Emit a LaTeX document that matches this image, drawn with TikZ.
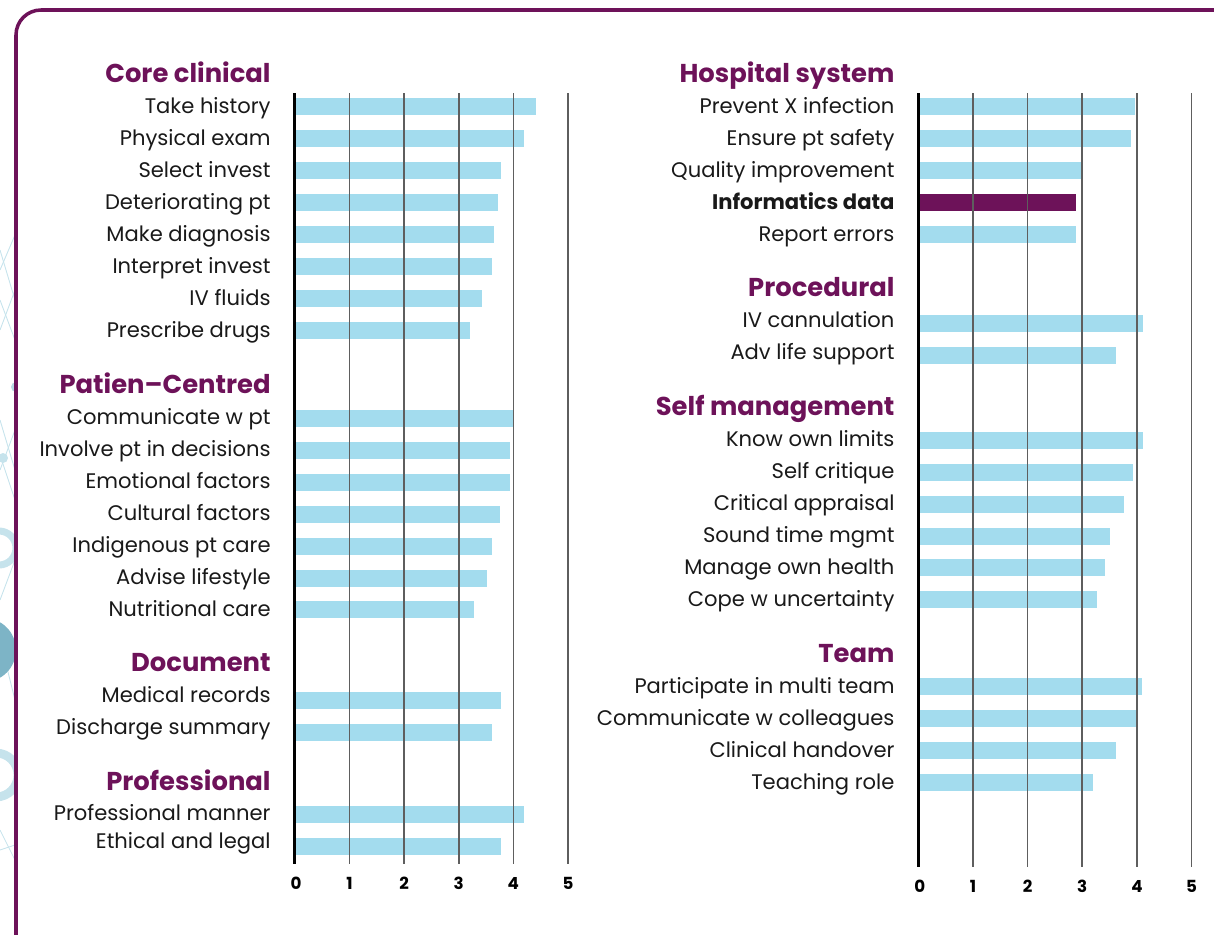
\documentclass[tikz,border=0pt]{standalone}
\usepackage{fontspec}
\setmainfont{Poppins}
\definecolor{plum}{HTML}{6D1259}
\definecolor{barblue}{HTML}{A3DCEE}
\definecolor{gridgrey}{HTML}{5E5E5E}
\definecolor{netblue}{HTML}{C6E3EC}
\definecolor{netteal}{HTML}{7DB4C6}
\tikzset{item/.style={anchor=base east, inner sep=0pt, text=black!90, font=\fontsize{12}{14}\selectfont}}
\tikzset{group/.style={anchor=base east, inner sep=0pt, text=plum, font=\fontsize{14.7}{17}\selectfont\bfseries}}
\tikzset{bar/.style={fill=barblue}}
\tikzset{gridline/.style={draw=gridgrey, line width=0.9pt}}
\tikzset{zeroline/.style={draw=black, line width=1.7pt}}
\tikzset{ticklabel/.style={inner sep=0pt, font=\fontsize{9.5}{10}\selectfont\bfseries}}

\begin{document}
\begin{tikzpicture}[x=0.02cm, y=-0.02cm]
    \useasboundingbox (0, 0) rectangle (1214, 934);
    % faint network in the margin
    \begin{scope}
        \clip (0, 0) rectangle (15, 934);
        \foreach \a/\b in {250/300, 270/235, 300/340, 330/290, 420/470, 455/500, 470/430, 600/560, 640/700, 830/860, 850/845} {
            \draw[netblue, line width=0.5pt] (0, \a) -- (15, \b);
        }
        \fill[netteal] (-16, 650) circle [radius=32];
        \draw[netblue, line width=4pt] (-1, 548) circle [radius=17];
        \draw[netblue, line width=5pt] (-4, 775) circle [radius=22];
        \fill[netblue!80!netteal] (16, 387) circle [radius=5];
        \fill[netblue] (3, 458) circle [radius=5];
    \end{scope}
    \draw[plum, line width=2pt, rounded corners=0.5cm] (16, 960) -- (16, 10) -- (1240, 10);

    % left chart
    \begin{scope}[xshift=5.9cm]
        \foreach \y/\v in {106/4.41, 138/4.19, 170/3.77, 202/3.72, 234/3.64, 266/3.61, 298/3.42, 330/3.20,
                           418/4.00, 450/3.94, 482/3.94, 514/3.75, 546/3.61, 578/3.52, 609/3.28,
                           700/3.77, 732/3.61, 814/4.19, 846/3.77} {
            \fill[bar] (0, \y - 8.5) rectangle (\v * 54.6, \y + 8.5);
        }
        \foreach \k in {1, ..., 5} {
            \draw[gridline] (\k * 54.6, 93) -- (\k * 54.6, 864);
            \node[ticklabel] (lt\k) at (\k * 54.6, 883) {\k};
        }
        \draw[zeroline] (0, 93) -- (0, 864);
        \node[ticklabel] (lt0) at (1, 883) {0};
        \foreach \y/\txt [count=\i] in {113/Take history, 145/Physical exam, 177/Select invest, 209/Deteriorating pt,
                                         241/Make diagnosis, 273/Interpret invest, 305/IV fluids, 337/Prescribe drugs,
                                         424/Communicate w pt, 456/Involve pt in decisions, 488/Emotional factors,
                                         520/Cultural factors, 552/Indigenous pt care, 584/Advise lifestyle,
                                         616/Nutritional care, 702/Medical records, 734/Discharge summary,
                                         820/Professional manner, 848/Ethical and legal} {
            \node[item] (litem\i) at (-24, \y) {\txt};
        }
        \node[group] (core) at (-24, 82) {Core clinical};
        \node[group] (patient) at (-24, 393) {Patien–Centred};
        \node[group] (document) at (-24, 671) {Document};
        \node[group] (professional) at (-24, 790) {Professional};
    \end{scope}

    % right chart
    \begin{scope}[xshift=18.37cm]
        \foreach \y/\v in {106/3.96, 138/3.89, 170/3.00, 234/2.88, 323/4.12, 355.5/3.61,
                           440.5/4.12, 472/3.93, 504/3.76, 536/3.50, 567.5/3.42, 599.5/3.27,
                           686.5/4.09, 718.5/4.00, 750.5/3.61, 782.5/3.20} {
            \fill[bar] (0, \y - 8.5) rectangle (\v * 54.65, \y + 8.5);
        }
        \fill[plum] (0, 202 - 8.5) rectangle (2.88 * 54.65, 202 + 8.5);
        \foreach \k in {1, ..., 5} {
            \draw[gridline] (\k * 54.65, 93) -- (\k * 54.65, 867);
            \node[ticklabel] (rt\k) at (\k * 54.65, 886) {\k};
        }
        \draw[zeroline] (0, 93) -- (0, 867);
        \node[ticklabel] (rt0) at (1.5, 886) {0};
        \foreach \y/\txt [count=\i] in {113/Prevent X infection, 145/Ensure pt safety, 177/Quality improvement,
                                         241/Report errors, 327/IV cannulation, 359/Adv life support,
                                         446/Know own limits, 478/Self critique, 510/Critical appraisal,
                                         542/Sound time mgmt, 574/Manage own health, 606/Cope w uncertainty,
                                         693/Participate in multi team, 725/Communicate w colleagues,
                                         757/Clinical handover, 789/Teaching role} {
            \node[item] (ritem\i) at (-23.5, \y) {\txt};
        }
        \node[item, font=\fontsize{12}{14}\selectfont\bfseries] (informatics) at (-23.5, 209) {Informatics data};
        \node[group] (hospital) at (-23.5, 82) {Hospital system};
        \node[group] (procedural) at (-23.5, 296) {Procedural};
        \node[group] (selfmgmt) at (-23.5, 415) {Self management};
        \node[group] (team) at (-23.5, 662) {Team};
    \end{scope}
\end{tikzpicture}
\end{document}
